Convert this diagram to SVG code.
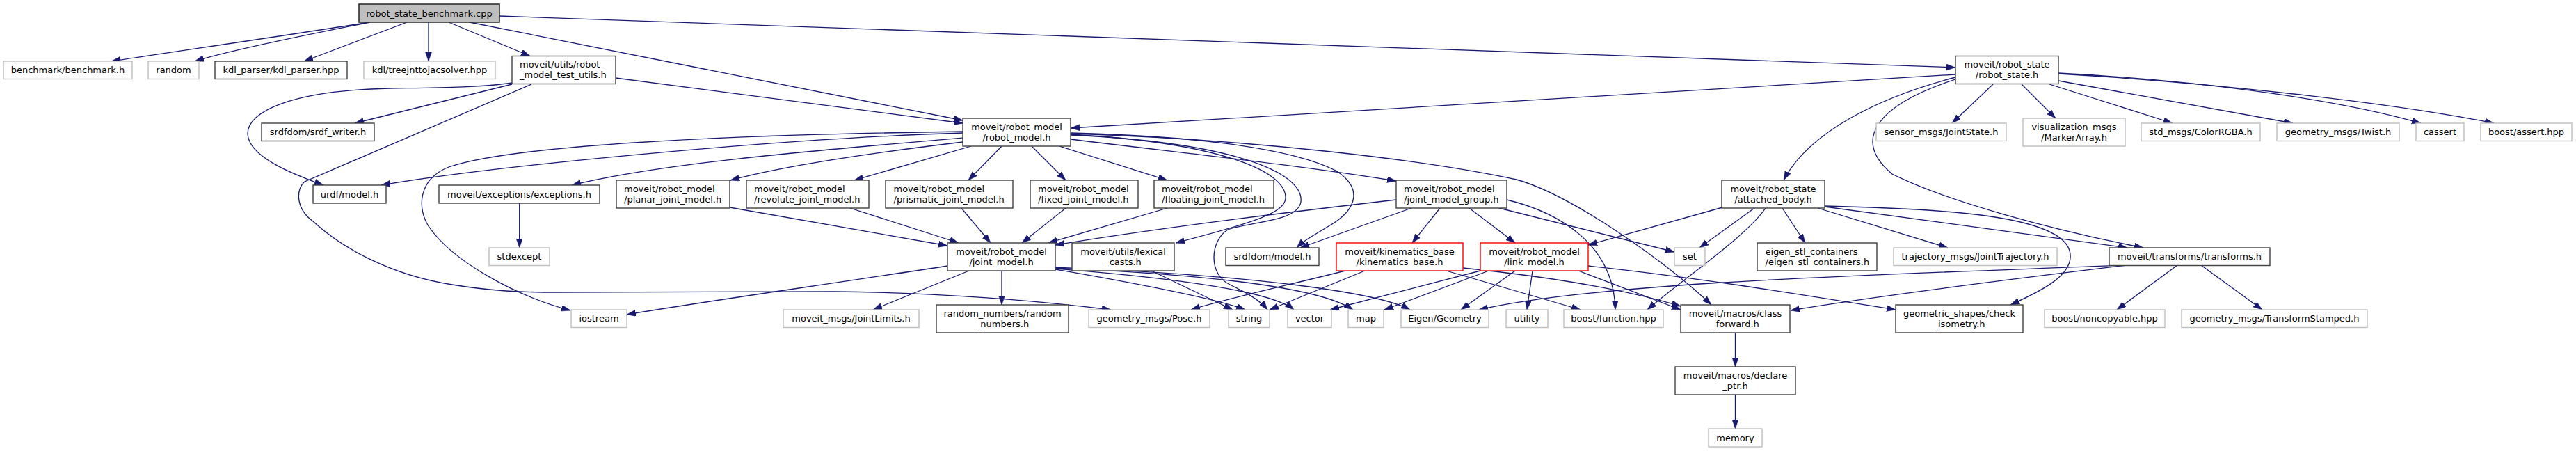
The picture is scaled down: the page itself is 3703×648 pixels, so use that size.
<svg xmlns="http://www.w3.org/2000/svg" width="3703" height="648" viewBox="0 0 3703 648">
<style>
.n rect{fill:#fff;stroke:#404040;stroke-width:1.4}
.n.l rect{stroke:#bfbfbf}
.n.r rect{stroke:#ff0000}
.n.root rect{fill:#bfbfbf;stroke:#303030;stroke-width:1.6}
text{font-family:"DejaVu Sans","Liberation Sans",sans-serif;font-size:13px;fill:#000}
.c{text-anchor:middle}
#edges path{fill:none;stroke:#191970;stroke-width:1.3;marker-end:url(#ah)}
</style>
<defs>
<marker id="ah" markerUnits="userSpaceOnUse" markerWidth="14" markerHeight="10" refX="13" refY="4.5" orient="auto">
<path d="M0,0 L13,4.5 L0,9 z" fill="#191970" stroke="#191970" stroke-width="0.5"/>
</marker>
</defs>
<rect width="3703" height="648" fill="#fff"/>
<g id="edges">
<path d="M530,32 C420,50 250,74 160,88"/>
<path d="M532,32 C440,50 330,72 280,88"/>
<path d="M585,32 L437,88"/>
<path d="M616,32 L616,88"/>
<path d="M645,32 L762,80.5"/>
<path d="M675,32 L1384,173"/>
<path d="M718,23 L2811,97"/>
<path d="M736,119 C690,126 620,126 560,127 C420,130 356,160 356,192 C357,225 420,250 465,266"/>
<path d="M736,121 L510,177"/>
<path d="M764,121 L438,261 C425,272 425,300 450,318 C490,355 560,395 650,409 C700,417 740,420 800,420 L1200,419 C1350,420 1500,433 1597,445"/>
<path d="M885,112 L1384,177"/>
<path d="M1384,191 C1100,200 700,240 548,266"/>
<path d="M1384,189 C1100,193 750,205 645,240 C600,258 600,300 616,325 C650,375 740,425 820,446"/>
<path d="M1384,198 C1150,218 950,235 822,266"/>
<path d="M1384,204 C1250,220 1120,240 1050,259"/>
<path d="M1396,210 L1228,259"/>
<path d="M1440,210 L1392,259"/>
<path d="M1483,210 L1532,259"/>
<path d="M1523,210 L1678,259"/>
<path d="M1539,200 C1700,220 1850,235 2007,260"/>
<path d="M1539,191 C1700,195 1850,210 1920,245 C1960,270 1950,300 1915,322 C1890,337 1875,345 1864,356"/>
<path d="M1539,192 C1800,200 2050,230 2180,258 C2260,280 2400,380 2460,438"/>
<path d="M1539,193 C1750,205 1850,245 1848,285 C1846,305 1810,318 1690,349"/>
<path d="M1539,194 C1780,205 1875,250 1870,290 C1866,318 1800,318 1765,330 C1740,345 1735,395 1770,410 C1790,420 1810,430 1822,445"/>
<path d="M1049,298 L1362,353"/>
<path d="M1222,299 L1378,349"/>
<path d="M1382,299 L1424,349"/>
<path d="M1532,299 L1469,349"/>
<path d="M1678,299 L1507,349"/>
<path d="M2007,287 C1850,305 1650,330 1517,352"/>
<path d="M2070,299 L2030,349"/>
<path d="M2112,299 L2178,349"/>
<path d="M2029,299 L1869,356"/>
<path d="M2166,287 C2240,305 2320,350 2322,445"/>
<path d="M2155,299 L2407,362"/>
<path d="M1393,389 L1255,445"/>
<path d="M1440,389 L1440,438"/>
<path d="M1362,382 C1200,407 1000,435 901,452"/>
<path d="M1517,387 C1650,410 1750,430 1790,445"/>
<path d="M1517,386 C1700,400 1830,420 1860,445"/>
<path d="M1517,385 C1750,395 1900,415 1945,445"/>
<path d="M1517,384 C1800,395 1980,420 2027,445"/>
<path d="M1655,389 L1772,445"/>
<path d="M1934,389 C1850,410 1760,430 1712,445"/>
<path d="M1962,389 L1825,445"/>
<path d="M2079,389 L2272,445"/>
<path d="M2103,385 C2250,400 2350,420 2416,440"/>
<path d="M2128,389 L1912,445"/>
<path d="M2140,389 L1990,445"/>
<path d="M2178,389 L2100,445"/>
<path d="M2203,389 L2195,445"/>
<path d="M2269,389 L2416,445"/>
<path d="M2283,382 C2450,400 2600,425 2725,445"/>
<path d="M2476,298 L2283,352"/>
<path d="M2522,299 L2443,356"/>
<path d="M2538,299 C2510,340 2420,400 2368,445"/>
<path d="M2562,299 L2595,349"/>
<path d="M2613,299 L2800,356"/>
<path d="M2623,297 C2800,320 2950,340 3058,356"/>
<path d="M2623,296 C2800,300 2960,310 2975,360 C2985,395 2930,420 2890,438"/>
<path d="M2811,107 L1539,184"/>
<path d="M2811,111 C2700,140 2600,190 2564,259"/>
<path d="M2811,114 C2700,150 2660,200 2720,250 C2800,290 2950,330 3081,356"/>
<path d="M2865,121 L2806,177"/>
<path d="M2906,121 L2955,170"/>
<path d="M2946,121 L3123,177"/>
<path d="M2959,116 L3296,177"/>
<path d="M2959,105 C3150,115 3350,140 3480,177"/>
<path d="M2959,106 C3200,120 3450,150 3585,177"/>
<path d="M3130,381 L3043,445"/>
<path d="M3164,381 L3252,445"/>
<path d="M3058,381 C2900,400 2700,425 2574,446"/>
<path d="M3055,381 C2700,395 2300,405 2126,445"/>
<path d="M2494.5,478 L2494.5,527"/>
<path d="M2494.5,567 L2494.5,616"/>
<path d="M746.7,292 L746.7,356"/>
</g>
<g id="n_root" class="n root"><rect x="516" y="6" width="202" height="26"/><text class="c" x="617" y="23.5">robot_state_benchmark.cpp</text></g>
<g id="n_benchmark" class="n l"><rect x="5" y="88" width="185" height="25.5"/><text class="c" x="97.5" y="105">benchmark/benchmark.h</text></g>
<g id="n_random" class="n l"><rect x="213" y="88" width="73" height="25.5"/><text class="c" x="249.5" y="105">random</text></g>
<g id="n_kdlparser" class="n"><rect x="309" y="88" width="190" height="25.5"/><text class="c" x="404" y="105">kdl_parser/kdl_parser.hpp</text></g>
<g id="n_treejnt" class="n l"><rect x="523" y="88" width="189" height="25.5"/><text class="c" x="617.5" y="105">kdl/treejnttojacsolver.hpp</text></g>
<g id="n_testutils" class="n"><rect x="736" y="80.5" width="149" height="40"/><text x="747" y="97">moveit/utils/robot</text><text x="747" y="112">_model_test_utils.h</text></g>
<g id="n_robotstate" class="n"><rect x="2811" y="80.5" width="148" height="40"/><text class="c" x="2885" y="97">moveit/robot_state</text><text class="c" x="2885" y="112">/robot_state.h</text></g>
<g id="n_srdfwriter" class="n"><rect x="376" y="177" width="162" height="25.5"/><text class="c" x="457" y="194">srdfdom/srdf_writer.h</text></g>
<g id="n_robotmodel" class="n"><rect x="1384" y="170" width="155" height="40"/><text class="c" x="1461.5" y="186.5">moveit/robot_model</text><text class="c" x="1461.5" y="201.5">/robot_model.h</text></g>
<g id="n_jointstate" class="n l"><rect x="2697" y="177" width="187" height="25.5"/><text class="c" x="2790.5" y="194">sensor_msgs/JointState.h</text></g>
<g id="n_markerarray" class="n l"><rect x="2908" y="170" width="147" height="40"/><text class="c" x="2981.5" y="186.5">visualization_msgs</text><text class="c" x="2981.5" y="201.5">/MarkerArray.h</text></g>
<g id="n_colorrgba" class="n l"><rect x="3078" y="177" width="171" height="25.5"/><text class="c" x="3163.5" y="194">std_msgs/ColorRGBA.h</text></g>
<g id="n_twist" class="n l"><rect x="3273" y="177" width="176" height="25.5"/><text class="c" x="3361" y="194">geometry_msgs/Twist.h</text></g>
<g id="n_cassert" class="n l"><rect x="3473" y="177" width="69" height="25.5"/><text class="c" x="3507.5" y="194">cassert</text></g>
<g id="n_boostassert" class="n l"><rect x="3566" y="177" width="131" height="25.5"/><text class="c" x="3631.5" y="194">boost/assert.hpp</text></g>
<g id="n_urdf" class="n"><rect x="450" y="266" width="105" height="26"/><text class="c" x="502.5" y="283.5">urdf/model.h</text></g>
<g id="n_exceptions" class="n"><rect x="631" y="266" width="231" height="26"/><text class="c" x="746.5" y="283.5">moveit/exceptions/exceptions.h</text></g>
<g id="n_planar" class="n"><rect x="886" y="259" width="163" height="40"/><text x="897" y="275.5">moveit/robot_model</text><text x="897" y="290.5">/planar_joint_model.h</text></g>
<g id="n_revolute" class="n"><rect x="1073" y="259" width="176" height="40"/><text x="1084" y="275.5">moveit/robot_model</text><text x="1084" y="290.5">/revolute_joint_model.h</text></g>
<g id="n_prismatic" class="n"><rect x="1273" y="259" width="183" height="40"/><text x="1284.5" y="275.5">moveit/robot_model</text><text x="1284.5" y="290.5">/prismatic_joint_model.h</text></g>
<g id="n_fixed" class="n"><rect x="1481" y="259" width="155" height="40"/><text x="1492" y="275.5">moveit/robot_model</text><text x="1492" y="290.5">/fixed_joint_model.h</text></g>
<g id="n_floating" class="n"><rect x="1659" y="259" width="172" height="40"/><text x="1670" y="275.5">moveit/robot_model</text><text x="1670" y="290.5">/floating_joint_model.h</text></g>
<g id="n_jmg" class="n"><rect x="2007" y="259" width="159" height="40"/><text x="2018" y="275.5">moveit/robot_model</text><text x="2018" y="290.5">/joint_model_group.h</text></g>
<g id="n_attached" class="n"><rect x="2475" y="259" width="148" height="40"/><text class="c" x="2549" y="275.5">moveit/robot_state</text><text class="c" x="2549" y="290.5">/attached_body.h</text></g>
<g id="n_stdexcept" class="n l"><rect x="703" y="356" width="87" height="25.5"/><text class="c" x="746.5" y="373">stdexcept</text></g>
<g id="n_jointmodel" class="n"><rect x="1362" y="349" width="155" height="40"/><text class="c" x="1439.5" y="365.5">moveit/robot_model</text><text class="c" x="1439.5" y="380.5">/joint_model.h</text></g>
<g id="n_lexical" class="n"><rect x="1541" y="349" width="147" height="40"/><text class="c" x="1614.5" y="365.5">moveit/utils/lexical</text><text class="c" x="1614.5" y="380.5">_casts.h</text></g>
<g id="n_srdfmodel" class="n"><rect x="1762" y="356" width="134" height="25.5"/><text class="c" x="1829" y="373">srdfdom/model.h</text></g>
<g id="n_kinematics" class="n r"><rect x="1921" y="349" width="182" height="40"/><text class="c" x="2012" y="365.5">moveit/kinematics_base</text><text class="c" x="2012" y="380.5">/kinematics_base.h</text></g>
<g id="n_linkmodel" class="n r"><rect x="2128" y="349" width="155" height="40"/><text class="c" x="2205.5" y="365.5">moveit/robot_model</text><text class="c" x="2205.5" y="380.5">/link_model.h</text></g>
<g id="n_set" class="n l"><rect x="2407" y="356" width="44" height="25.5"/><text class="c" x="2429" y="373">set</text></g>
<g id="n_eigenstl" class="n"><rect x="2526" y="349" width="172" height="40"/><text x="2537.5" y="365.5">eigen_stl_containers</text><text x="2537.5" y="380.5">/eigen_stl_containers.h</text></g>
<g id="n_trajectory" class="n l"><rect x="2722" y="356" width="235" height="25.5"/><text class="c" x="2839.5" y="373">trajectory_msgs/JointTrajectory.h</text></g>
<g id="n_transforms" class="n"><rect x="3032" y="356" width="231" height="25.5"/><text class="c" x="3147.5" y="373">moveit/transforms/transforms.h</text></g>
<g id="n_iostream" class="n l"><rect x="821" y="445" width="80" height="25.5"/><text class="c" x="861" y="462">iostream</text></g>
<g id="n_jointlimits" class="n l"><rect x="1126" y="445" width="195" height="25.5"/><text class="c" x="1223.5" y="462">moveit_msgs/JointLimits.h</text></g>
<g id="n_randomnumbers" class="n"><rect x="1346" y="438" width="190" height="40"/><text class="c" x="1441" y="454.5">random_numbers/random</text><text class="c" x="1441" y="469.5">_numbers.h</text></g>
<g id="n_pose" class="n l"><rect x="1565" y="445" width="174" height="25.5"/><text class="c" x="1652" y="462">geometry_msgs/Pose.h</text></g>
<g id="n_string" class="n l"><rect x="1766" y="445" width="59" height="25.5"/><text class="c" x="1795.5" y="462">string</text></g>
<g id="n_vector" class="n l"><rect x="1851" y="445" width="63" height="25.5"/><text class="c" x="1882.5" y="462">vector</text></g>
<g id="n_map" class="n l"><rect x="1938" y="445" width="51" height="25.5"/><text class="c" x="1963.5" y="462">map</text></g>
<g id="n_eigen" class="n l"><rect x="2014" y="445" width="126" height="25.5"/><text class="c" x="2077" y="462">Eigen/Geometry</text></g>
<g id="n_utility" class="n l"><rect x="2165" y="445" width="60" height="25.5"/><text class="c" x="2195" y="462">utility</text></g>
<g id="n_boostfunction" class="n l"><rect x="2248" y="445" width="143" height="25.5"/><text class="c" x="2319.5" y="462">boost/function.hpp</text></g>
<g id="n_classforward" class="n"><rect x="2416" y="438" width="157" height="40"/><text class="c" x="2494.5" y="454.5">moveit/macros/class</text><text class="c" x="2494.5" y="469.5">_forward.h</text></g>
<g id="n_checkiso" class="n"><rect x="2725" y="438" width="183" height="40"/><text class="c" x="2816.5" y="454.5">geometric_shapes/check</text><text class="c" x="2816.5" y="469.5">_isometry.h</text></g>
<g id="n_noncopyable" class="n l"><rect x="2939" y="445" width="173" height="25.5"/><text class="c" x="3025.5" y="462">boost/noncopyable.hpp</text></g>
<g id="n_tfstamped" class="n l"><rect x="3136" y="445" width="267" height="25.5"/><text class="c" x="3269.5" y="462">geometry_msgs/TransformStamped.h</text></g>
<g id="n_declareptr" class="n"><rect x="2408" y="527" width="173" height="40"/><text class="c" x="2494.5" y="543.5">moveit/macros/declare</text><text class="c" x="2494.5" y="558.5">_ptr.h</text></g>
<g id="n_memory" class="n l"><rect x="2456" y="616" width="77" height="26"/><text class="c" x="2494.5" y="633.5">memory</text></g>
</svg>
